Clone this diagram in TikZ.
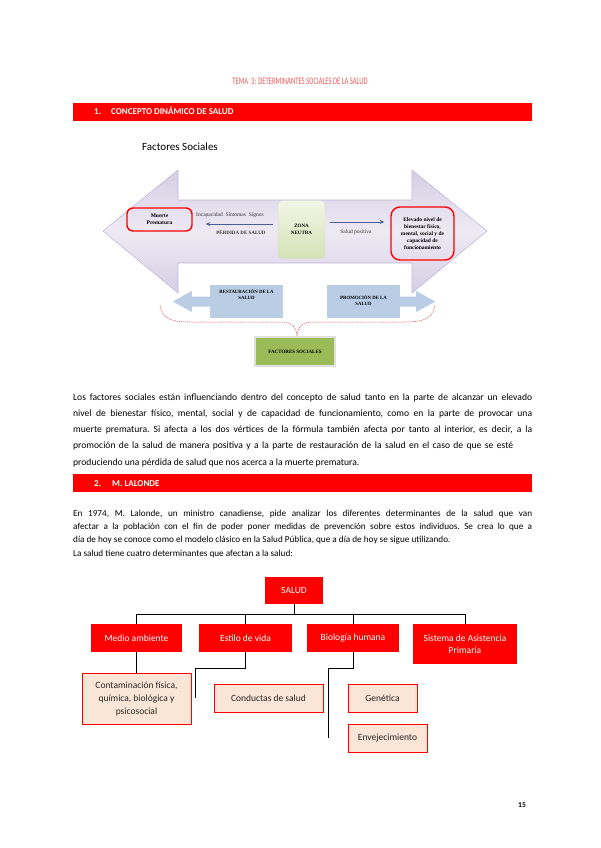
\documentclass[tikz,border=0pt]{standalone}
\usepackage{fontspec}
\setmainfont{Carlito}
\newfontfamily\boxserif{Liberation Serif}
\usetikzlibrary{positioning,arrows.meta,calc}
\definecolor{barred}{RGB}{255,0,0}
\definecolor{titred}{RGB}{240,90,90}
\definecolor{lavtop}{RGB}{214,206,228}
\definecolor{lavmid}{RGB}{238,234,244}
\definecolor{lavedge}{RGB}{196,186,214}
\definecolor{arrblue}{RGB}{72,98,148}
\definecolor{neutop}{RGB}{242,246,230}
\definecolor{neubot}{RGB}{212,226,182}
\definecolor{blufill}{RGB}{185,205,229}
\definecolor{olive}{RGB}{155,187,89}
\definecolor{peach}{RGB}{251,229,214}
\definecolor{bracered}{RGB}{220,70,70}
\tikzset{
  >={Stealth[length=1.6mm,width=1.4mm]},
  secbar/.style={fill=barred,minimum width=459pt,minimum height=18pt,inner sep=0pt},
  barlbl/.style={anchor=base west,inner sep=0pt,text=white,font=\bfseries\fontsize{9}{10}\selectfont},
  bigarrow/.style={draw=lavedge,line width=0.6pt,top color=lavtop,bottom color=lavtop,
    middle color=lavmid},
  redround/.style={draw=barred,line width=1.4pt,rounded corners=6pt,inner sep=0pt,align=center,
    font=\boxserif\bfseries\fontsize{5.5}{7}\selectfont},
  neutral/.style={draw=black!15,rounded corners=4pt,top color=neutop,bottom color=neubot,
    minimum width=47pt,minimum height=58pt,inner sep=0pt,align=center,
    font=\boxserif\bfseries\fontsize{5}{7}\selectfont},
  arrlbl/.style={inner sep=0pt,font=\boxserif\fontsize{5.5}{7}\selectfont,text=black!80},
  bluarrow/.style={->,draw=arrblue,line width=1pt},
  blubox/.style={fill=blufill,minimum width=73pt,minimum height=33pt,inner sep=0pt},
  blulbl/.style={inner sep=0pt,align=center,font=\boxserif\bfseries\fontsize{4.8}{6.5}\selectfont},
  brace/.style={draw=bracered,line width=0.5pt,dash pattern=on 1.2pt off 0.9pt},
  olivebox/.style={fill=olive,draw=black!12,line width=1.2pt,minimum width=80pt,
    minimum height=29pt,inner sep=0pt,font=\boxserif\bfseries\fontsize{5}{6}\selectfont},
  bodytxt/.style={anchor=base west,inner sep=0pt,text width=459pt,align=justify,
    execute at begin node=\frenchspacing},
  orgbox/.style={fill=barred,text=white,inner sep=0pt,align=center,
    font=\fontsize{9.5}{12.5}\selectfont},
  subbox/.style={fill=peach,draw=barred,line width=0.8pt,inner sep=0pt,align=center,
    text=black!85,font=\fontsize{9.5}{13}\selectfont},
  orgline/.style={draw=black,line width=0.7pt},
}
\begin{document}
\begin{tikzpicture}[x=1pt,y=-1pt]
  \useasboundingbox[fill=white] (0,0) rectangle (600,848);

  % encabezado
  \node[inner sep=0pt,text=titred,font=\fontsize{10}{12}\selectfont] (tema) at (300,81)
    {\scalebox{0.66}[1]{TEMA\ \ 3: DETERMINANTES SOCIALES DE LA SALUD}};
  \node[secbar] (bar1) at (302.5,112) {};
  \node[barlbl] (num1) at (94,115) {1.};
  \node[barlbl] (sec1) at (111,115) {CONCEPTO DINÁMICO DE SALUD};
  \node[anchor=west,inner sep=0pt,font=\fontsize{11}{13}\selectfont] (fstit) at (142,147)
    {Factores Sociales};

  % flecha doble
  \path[bigarrow] (103,231) -- (178,170) -- (178,200) -- (412,200) -- (412,170)
    -- (487,231) -- (412,293) -- (412,263) -- (178,263) -- (178,293) -- cycle;
  \node[redround,minimum width=65pt,minimum height=23pt] (muerte) at (159.5,219.5)
    {Muerte\\Prematura};
  \node[neutral] (zona) at (301.5,229.5) {ZONA\\NEUTRA};
  \node[redround,minimum width=63pt,minimum height=53pt,rounded corners=9pt] (elevado)
    at (422.5,233.5)
    {Elevado nivel de\\bienestar físico,\\mental, social y de\\capacidad de\\funcionamiento};
  \draw[bluarrow] ([xshift=-5pt,yshift=5.5pt]zona.west) -- ([xshift=13pt,yshift=-4.5pt]muerte.east);
  \draw[bluarrow] ([xshift=5pt,yshift=7.5pt]zona.east) -- ([xshift=-6pt,yshift=11.5pt]elevado.west);
  \node[arrlbl] (sintomas) at (230,215) {Incapacidad\ \ Síntomas\ \ Signos};
  \node[arrlbl,font=\boxserif\bfseries\fontsize{5}{6}\selectfont] (perdida) at (241,232)
    {PÉRDIDA DE SALUD};
  \node[arrlbl] (positiva) at (356,232) {Salud positiva};

  % restauracion y promocion
  \node[blubox] (rest) at (246.5,301.5) {};
  \node[blubox] (prom) at (363.5,301.5) {};
  \fill[blufill] (rest.west) ++(0,-5) -- ++(-18,0) -- ++(0,-5.5) -- ++(-19,10.5)
    -- ++(19,10.5) -- ++(0,-5.5) -- ++(18,0) -- cycle;
  \fill[blufill] (prom.east) ++(0,-5) -- ++(16,0) -- ++(0,-5.5) -- ++(19,10.5)
    -- ++(-19,10.5) -- ++(0,-5.5) -- ++(-16,0) -- cycle;
  \node[blulbl,below=4pt of rest.north] (restl) {RESTAURACIÓN DE LA\\SALUD};
  \node[blulbl,below=10pt of prom.north] (proml) {PROMOCIÓN DE LA\\SALUD};
  \draw[brace] (160,305) .. controls (162,318) and (170,322) .. (190,322) -- (282,322)
    .. controls (292,322) and (297,328) .. (297,337)
    .. controls (297,328) and (302,322) .. (312,322) -- (405,322)
    .. controls (425,322) and (433,318) .. (435,305);
  \node[olivebox] (fsoc) at (295,351.5) {FACTORES SOCIALES};

  % texto
  \node[bodytxt,font=\fontsize{9.6}{16.3}\selectfont] (parr1) at (73,400) {\noindent
    Los factores sociales están influenciando dentro del concepto de salud tanto en la parte de alcanzar un elevado\linebreak
    nivel de bienestar físico, mental, social y de capacidad de funcionamiento, como en la parte de provocar una\linebreak
    muerte prematura. Si afecta a los dos vértices de la fórmula también afecta por tanto al interior, es decir, a la\linebreak
    promoción de la salud de manera positiva y a la parte de restauración de la salud en el caso de que se esté\hspace*{19pt}\linebreak
    produciendo una pérdida de salud que nos acerca a la muerte prematura.};
  \node[secbar] (bar2) at (302.5,483) {};
  \node[barlbl] (num2) at (94,486) {2.};
  \node[barlbl] (sec2) at (112,486) {M. LALONDE};
  \node[bodytxt,font=\fontsize{9.2}{13.4}\selectfont] (parr2) at (73,516) {\noindent
    En 1974, M. Lalonde, un ministro canadiense, pide analizar los diferentes determinantes de la salud que van\linebreak
    afectar a la población con el fin de poder poner medidas de prevención sobre estos individuos. Se crea lo que a\linebreak
    día de hoy se conoce como el modelo clásico en la Salud Pública, que a día de hoy se sigue utilizando.\\
    La salud tiene cuatro determinantes que afectan a la salud:};

  % esquema de Lalonde
  \node[orgbox,minimum width=58pt,minimum height=27pt] (salud) at (294,590.5) {SALUD};
  \node[orgbox,minimum width=91pt,minimum height=28pt] (medio) at (136.5,638) {Medio ambiente};
  \node[orgbox,minimum width=93pt,minimum height=28pt] (estilo) at (245.5,638) {Estilo de vida};
  \node[orgbox,minimum width=92pt,minimum height=28pt] (bio) at (353,638) {Biología humana};
  \node[orgbox,minimum width=104pt,minimum height=40pt] (sist) at (465,644)
    {Sistema de Asistencia\\Primaria};
  \foreach \hijo in {medio,estilo,bio,sist}
    \draw[orgline] (salud.south) -- ++(0,10) -| (\hijo.north);
  \node[subbox,minimum width=109pt,minimum height=51pt] (contam) at (136.5,698.5)
    {Contaminación física,\\química, biológica y\\psicosocial};
  \node[subbox,minimum width=109pt,minimum height=28pt] (conduct) at (268.5,698) {Conductas de salud};
  \node[subbox,minimum width=69pt,minimum height=28pt] (genet) at (382.5,698) {Genética};
  \node[subbox,minimum width=79pt,minimum height=28pt] (envej) at (387.5,738) {Envejecimiento};
  \draw[orgline] (medio.south) -- (contam.north);
  \draw[orgline] (estilo.south) -- ++(0,16) -| ([xshift=-18pt]conduct.west);
  \draw[orgline] (bio.south) -- ++(0,16) -| ([xshift=-19pt]genet.west);
  \draw[orgline] (bio.south) -- ++(0,16) -| ([xshift=-19pt]envej.west);

  \node[inner sep=0pt,font=\bfseries\fontsize{7.5}{9}\selectfont] (pag) at (522,805) {15};
\end{tikzpicture}
\end{document}
